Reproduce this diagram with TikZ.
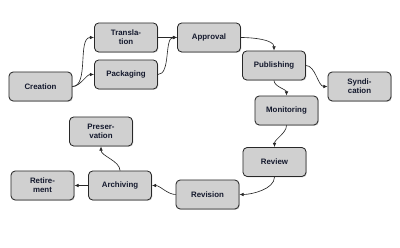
\documentclass[tikz,border=0pt]{standalone}
\usepackage{fontspec}
\setmainfont{Liberation Sans}
\usepackage{tikz}
\usetikzlibrary{arrows.meta,shadows}
\definecolor{boxgray}{RGB}{208,208,208}
\definecolor{edgegray}{RGB}{40,40,40}
\definecolor{textnavy}{RGB}{20,25,45}

\begin{document}
\begin{tikzpicture}[x=0.025cm, y=-0.025cm,
    stage/.style={draw=edgegray, fill=boxgray, rounded corners=3pt,
        minimum width=1.575cm, minimum height=0.725cm, line width=0.6pt,
        align=center, inner sep=1pt, text=textnavy,
        font=\fontsize{5.6pt}{6.6pt}\selectfont\bfseries,
        drop shadow={opacity=0.35, shadow xshift=0.6pt, shadow yshift=-0.6pt}},
    flow/.style={-{Latex[length=3pt,width=2.6pt]}, line width=0.45pt, edgegray, looseness=0.8}]
  \useasboundingbox (0,0) rectangle (400,248);
  % Stages
  \node[stage] (creation) at (40.5,86.5) {Creation};
  \node[stage] (translation) at (126,37.5) {Transla-\\tion};
  \node[stage] (packaging) at (126,74.5) {Packaging};
  \node[stage] (approval) at (209,37.5) {Approval};
  \node[stage] (publishing) at (274,65.5) {Publishing};
  \node[stage] (syndication) at (359.5,86.5) {Syndi-\\cation};
  \node[stage] (monitoring) at (286.5,110.5) {Monitoring};
  \node[stage] (review) at (274.5,162) {Review};
  \node[stage] (revision) at (207.5,194.5) {Revision};
  \node[stage] (archiving) at (120,185.5) {Archiving};
  \node[stage] (retirement) at (42.5,185.5) {Retire-\\ment};
  \node[stage] (preservation) at (101,131.5) {Preser-\\vation};
  % Connectors
  \draw[flow] (creation.east) to[out=0,in=180] (translation.west);
  \draw[flow] (creation.east) to[out=0,in=180] (packaging.west);
  \draw[flow] (translation.east) -- (approval.west);
  \draw[flow] (packaging.east) to[out=0,in=180] (approval.west);
  \draw[flow] (approval.east) to[out=0,in=90] (publishing.north);
  \draw[flow] (publishing.east) to[out=0,in=180] (syndication.west);
  \draw[flow] (publishing.south) to[out=-90,in=90] (monitoring.north);
  \draw[flow] (monitoring.south) to[out=-90,in=90] (review.north);
  \draw[flow] (review.south) to[out=-90,in=0] (revision.east);
  \draw[flow] (revision.west) to[out=180,in=0] (archiving.east);
  \draw[flow] (archiving.west) -- (retirement.east);
  \draw[flow] (archiving.north) to[out=90,in=-90] (preservation.south);
\end{tikzpicture}
\end{document}
